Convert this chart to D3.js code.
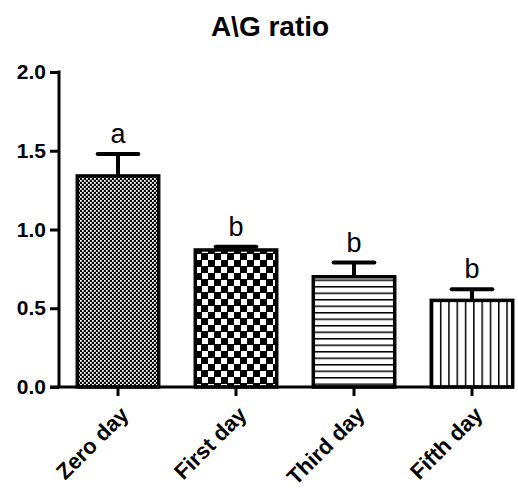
<!DOCTYPE html>
<html>
<head>
<meta charset="utf-8">
<script src="https://cdnjs.cloudflare.com/ajax/libs/d3/7.8.5/d3.min.js"></script>
<style>
  body { margin: 0; background: #fff; }
  svg text { font-family: "Liberation Sans", Arial, sans-serif; fill: #000; }
</style>
</head>
<body>
<div id="chart"></div>
<script>
var categories = ["Zero day", "First day", "Third day", "Fifth day"];
var means      = [1.34, 0.87, 0.70, 0.55];
var errors     = [0.14, 0.02, 0.09, 0.07];
var letters    = ["a", "b", "b", "b"];
var patterns   = ["fine-check", "big-check", "h-lines", "v-lines"];
var y_ticks    = [0, 0.5, 1.0, 1.5, 2.0];

var chart = {
  width: 518,
  height: 492,
  left: 59,
  right: 531,
  top: 72,
  bottom: 387
}

var svg = d3.select("#chart").append("svg")
  .attr("width", chart.width)
  .attr("height", chart.height);

var x = d3.scaleBand()
  .domain(categories)
  .range([chart.left, chart.right])
  .paddingInner(0.31)
  .paddingOuter(0.155);

var y = d3.scaleLinear()
  .domain([0, 2])
  .range([chart.bottom, chart.top]);

function patterns_define() {
  var defs = svg.append("defs");

  // fine checker: mostly black with small white dots
  var p1 = defs.append("pattern")
    .attr("id", "fine-check")
    .attr("patternUnits", "userSpaceOnUse")
    .attr("width", 4).attr("height", 4);
  p1.append("rect").attr("width", 4).attr("height", 4).attr("fill", "#000");
  p1.append("rect").attr("width", 1.8).attr("height", 1.8).attr("fill", "#fff");
  p1.append("rect").attr("x", 2).attr("y", 2).attr("width", 1.8).attr("height", 1.8).attr("fill", "#fff");

  var p2 = defs.append("pattern")
    .attr("id", "big-check")
    .attr("patternUnits", "userSpaceOnUse")
    .attr("width", 13).attr("height", 13);
  p2.append("rect").attr("width", 13).attr("height", 13).attr("fill", "#000");
  p2.append("rect").attr("x", 7).attr("width", 6).attr("height", 6).attr("fill", "#fff");
  p2.append("rect").attr("y", 7).attr("width", 6).attr("height", 6).attr("fill", "#fff");

  var p3 = defs.append("pattern")
    .attr("id", "h-lines")
    .attr("patternUnits", "userSpaceOnUse")
    .attr("width", 10).attr("height", 6.5);
  p3.append("rect").attr("width", 10).attr("height", 6.5).attr("fill", "#fff");
  p3.append("rect").attr("y", 0).attr("width", 10).attr("height", 1.5).attr("fill", "#000");

  var p4 = defs.append("pattern")
    .attr("id", "v-lines")
    .attr("patternUnits", "userSpaceOnUse")
    .attr("width", 8.3).attr("height", 10);
  p4.append("rect").attr("width", 8.3).attr("height", 10).attr("fill", "#fff");
  p4.append("rect").attr("x", 0).attr("width", 1.5).attr("height", 10).attr("fill", "#000");
}

function bars_draw() {
  var data = categories.map(function(c, i) {
    return { cat: c, mean: means[i], err: errors[i], letter: letters[i], pat: patterns[i] };
  });

  var g = svg.append("g").selectAll("g")
    .data(data)
    .enter().append("g");

  g.append("rect")
    .attr("x", function(d) { return x(d.cat); })
    .attr("y", function(d) { return y(d.mean); })
    .attr("width", x.bandwidth())
    .attr("height", function(d) { return y(0) - y(d.mean); })
    .style("fill", function(d) { return "url(#" + d.pat + ")"; })
    .style("stroke", "#000")
    .style("stroke-width", 3.5);

  // error bars, upper side only
  g.append("line")
    .attr("x1", function(d) { return x(d.cat) + x.bandwidth() / 2; })
    .attr("x2", function(d) { return x(d.cat) + x.bandwidth() / 2; })
    .attr("y1", function(d) { return y(d.mean); })
    .attr("y2", function(d) { return y(d.mean + d.err); })
    .style("stroke", "#000")
    .style("stroke-width", 4);

  g.append("line")
    .attr("x1", function(d) { return x(d.cat) + x.bandwidth() / 4; })
    .attr("x2", function(d) { return x(d.cat) + x.bandwidth() * 3 / 4; })
    .attr("y1", function(d) { return y(d.mean + d.err); })
    .attr("y2", function(d) { return y(d.mean + d.err); })
    .style("stroke", "#000")
    .style("stroke-width", 4)
    .style("stroke-linecap", "round");

  g.append("text")
    .attr("x", function(d) { return x(d.cat) + x.bandwidth() / 2; })
    .attr("y", function(d) { return y(d.mean + d.err) - 11; })
    .style("text-anchor", "middle")
    .style("font-size", "27px")
    .text(function(d) { return d.letter; });
}

function axes_draw() {
  var ya = svg.append("g")
    .attr("transform", "translate(" + chart.left + ",0)")
    .call(d3.axisLeft(y).tickValues(y_ticks).tickFormat(d3.format(".1f")).tickSize(9).tickSizeOuter(0));

  ya.select(".domain").remove();
  ya.selectAll(".tick line").style("stroke-width", 3);
  ya.selectAll(".tick text")
    .attr("x", -13)
    .style("font-size", "21px")
    .style("font-weight", "bold")
    .style("font-family", "'Liberation Sans', Arial, sans-serif");

  svg.append("line")
    .attr("x1", chart.left).attr("x2", chart.left)
    .attr("y1", y(2) - 1.5).attr("y2", y(0))
    .style("stroke", "#000").style("stroke-width", 3);

  var xa = svg.append("g")
    .attr("transform", "translate(0," + chart.bottom + ")")
    .call(d3.axisBottom(x).tickSize(9).tickSizeOuter(0));

  xa.select(".domain").remove();
  xa.selectAll(".tick line").style("stroke-width", 3);
  xa.selectAll(".tick text")
    .attr("y", 0).attr("dy", 0)
    .attr("transform", "translate(12,29) rotate(-45)")
    .style("text-anchor", "end")
    .style("font-size", "22px")
    .style("font-weight", "bold")
    .style("font-family", "'Liberation Sans', Arial, sans-serif");

  svg.append("line")
    .attr("x1", 50).attr("x2", 514)
    .attr("y1", chart.bottom).attr("y2", chart.bottom)
    .style("stroke", "#000").style("stroke-width", 3);
}

function title_draw() {
  svg.append("text")
    .attr("x", 270)
    .attr("y", 36)
    .style("text-anchor", "middle")
    .style("font-size", "28px")
    .style("font-weight", "bold")
    .text("A\\G ratio");
}

patterns_define();
bars_draw();
axes_draw();
title_draw();
</script>
</body>
</html>
